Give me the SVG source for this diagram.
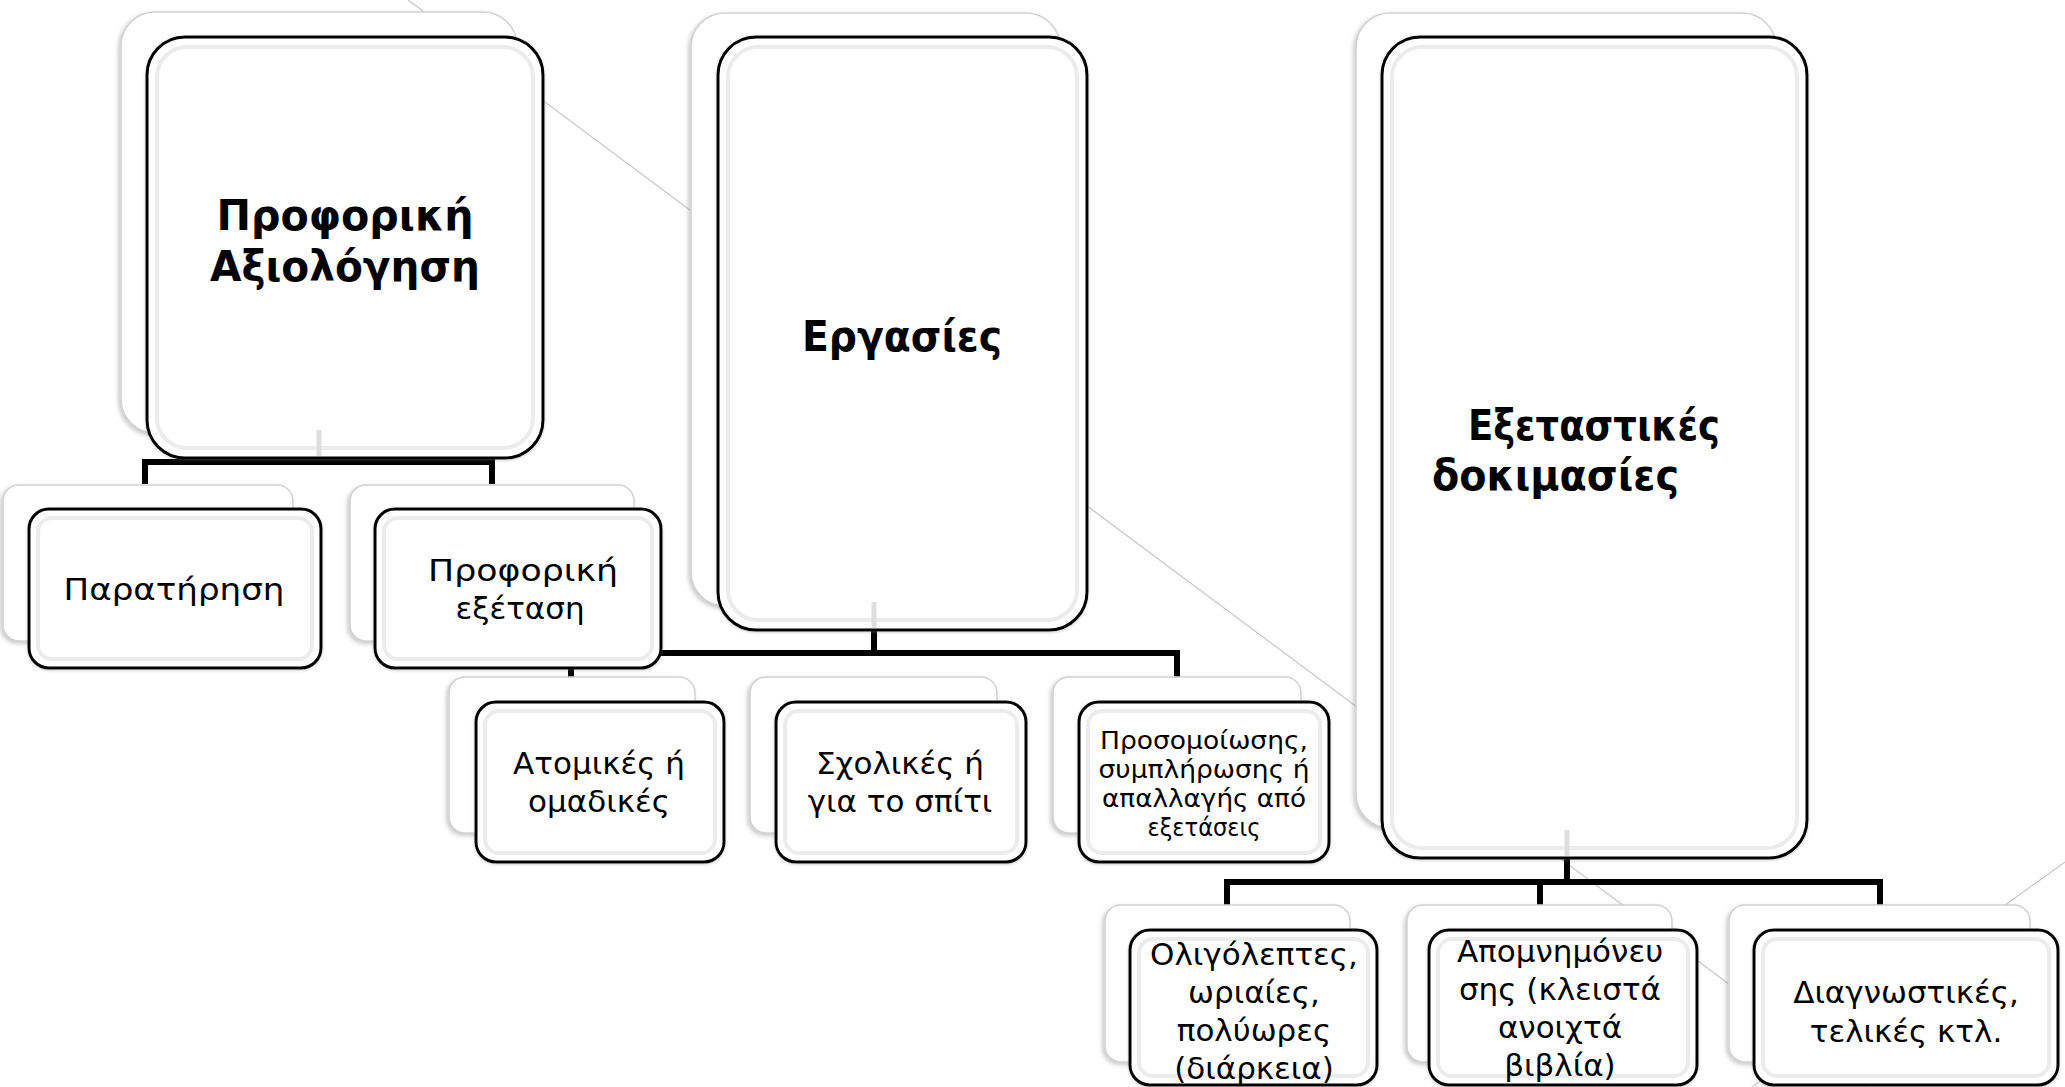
<svg xmlns="http://www.w3.org/2000/svg" width="2065" height="1087" viewBox="0 0 2065 1087">
<defs>
<filter id="sh" x="-10%" y="-10%" width="120%" height="120%">
<feDropShadow dx="-2" dy="2" stdDeviation="2" flood-color="#888" flood-opacity="0.45"/>
</filter>
<filter id="sh2" x="-10%" y="-10%" width="120%" height="120%">
<feDropShadow dx="0" dy="1" stdDeviation="1.5" flood-color="#777" flood-opacity="0.35"/>
</filter>
<style>
.back{fill:#fff;stroke:#d2d2d2;stroke-width:1.5;filter:url(#sh)}
.front{fill:#fff;stroke:#000;stroke-width:3;filter:url(#sh2)}
.bevel{fill:none;stroke:#ececec;stroke-width:4}
.conn{fill:none;stroke:#000;stroke-width:6;stroke-linejoin:miter}
.ghost{stroke:#dedede;stroke-width:5}
.deco{fill:none;stroke:#c8c8c8;stroke-width:1.3}
.title{font-family:"DejaVu Sans","Liberation Sans",sans-serif;font-weight:bold;font-size:43px;fill:#000}
.leaf{font-family:"DejaVu Sans","Liberation Sans",sans-serif;font-size:31px;fill:#000;text-anchor:middle}
.small{font-family:"DejaVu Sans","Liberation Sans",sans-serif;font-size:25px;fill:#000;text-anchor:middle}
</style>
</defs>
<rect width="2065" height="1087" fill="#fff"/>
<g id="decoration">
<line class="deco" x1="408" y1="0" x2="1867" y2="1087"/>
<line class="deco" x1="2065" y1="862" x2="1752" y2="1087"/>
</g>
<g id="connectors">
<path class="conn" d="M319 458 V462 M145 484 V462 H492 V484"/>
<path class="conn" d="M874 630 V653 M571 678 V653 H1177 V678"/>
<path class="conn" d="M1567 858 V882 M1227 906 V882 H1880 V906 M1540 882 V906"/>
</g>
<g id="node-A">
<rect class="back" x="121" y="12" width="396" height="421" rx="34"/>
<rect class="front" x="147" y="37" width="396" height="421" rx="38"/>
<rect class="bevel" x="157" y="47" width="376" height="401" rx="30"/>
<line class="ghost" x1="319" y1="430" x2="319" y2="456"/>
<text class="title" text-anchor="middle" lengthAdjust="spacingAndGlyphs"><tspan x="345" y="230" textLength="257" lengthAdjust="spacingAndGlyphs">Προφορική</tspan><tspan x="345" y="281" textLength="270" lengthAdjust="spacingAndGlyphs">Αξιολόγηση</tspan></text>
</g>
<g id="node-A1">
<rect class="back" x="3" y="485" width="290" height="156" rx="16"/>
<rect class="front" x="29" y="509" width="292" height="159" rx="20"/>
<rect class="bevel" x="38" y="518" width="274" height="141" rx="14"/>
<text class="leaf" x="174" y="600" textLength="221" lengthAdjust="spacingAndGlyphs">Παρατήρηση</text>
</g>
<g id="node-A2">
<rect class="back" x="350" y="485" width="284" height="156" rx="16"/>
<rect class="front" x="375" y="509" width="286" height="159" rx="20"/>
<rect class="bevel" x="384" y="518" width="268" height="141" rx="14"/>
<text class="leaf"><tspan x="523" y="581" textLength="190" lengthAdjust="spacingAndGlyphs">Προφορική</tspan><tspan x="520" y="619">εξέταση</tspan></text>
</g>
<g id="node-B">
<rect class="back" x="691" y="13" width="369" height="593" rx="34"/>
<rect class="front" x="718" y="37" width="369" height="593" rx="38"/>
<rect class="bevel" x="728" y="47" width="349" height="573" rx="30"/>
<line class="ghost" x1="874" y1="602" x2="874" y2="628"/>
<text class="title" x="902" y="351" text-anchor="middle" textLength="200" lengthAdjust="spacingAndGlyphs">Εργασίες</text>
</g>
<g id="node-B1">
<rect class="back" x="449" y="677" width="246" height="156" rx="16"/>
<rect class="front" x="476" y="702" width="248" height="160" rx="20"/>
<rect class="bevel" x="485" y="711" width="230" height="142" rx="14"/>
<text class="leaf"><tspan x="599" y="774">Ατομικές ή</tspan><tspan x="599" y="812">ομαδικές</tspan></text>
</g>
<g id="node-B2">
<rect class="back" x="750" y="677" width="247" height="156" rx="16"/>
<rect class="front" x="776" y="702" width="250" height="160" rx="20"/>
<rect class="bevel" x="785" y="711" width="232" height="142" rx="14"/>
<text class="leaf"><tspan x="900" y="774">Σχολικές ή</tspan><tspan x="900" y="812">για το σπίτι</tspan></text>
</g>
<g id="node-B3">
<rect class="back" x="1053" y="677" width="248" height="156" rx="16"/>
<rect class="front" x="1079" y="702" width="250" height="160" rx="20"/>
<rect class="bevel" x="1088" y="711" width="232" height="142" rx="14"/>
<text class="small"><tspan x="1204" y="749" textLength="208" lengthAdjust="spacingAndGlyphs">Προσομοίωσης,</tspan><tspan x="1204" y="778" textLength="211" lengthAdjust="spacingAndGlyphs">συμπλήρωσης ή</tspan><tspan x="1204" y="807" textLength="204" lengthAdjust="spacingAndGlyphs">απαλλαγής από</tspan><tspan x="1204" y="836" textLength="113" lengthAdjust="spacingAndGlyphs">εξετάσεις</tspan></text>
</g>
<g id="node-C">
<rect class="back" x="1356" y="13" width="420" height="815" rx="34"/>
<rect class="front" x="1382" y="37" width="425" height="821" rx="38"/>
<rect class="bevel" x="1392" y="47" width="405" height="801" rx="30"/>
<line class="ghost" x1="1567" y1="830" x2="1567" y2="856"/>
<text class="title"><tspan x="1468" y="440" textLength="252" lengthAdjust="spacingAndGlyphs">Εξεταστικές</tspan><tspan x="1432" y="490" textLength="247" lengthAdjust="spacingAndGlyphs">δοκιμασίες</tspan></text>
</g>
<g id="node-C1">
<rect class="back" x="1105" y="905" width="245" height="157" rx="16"/>
<rect class="front" x="1130" y="930" width="247" height="155" rx="20"/>
<rect class="bevel" x="1139" y="939" width="229" height="137" rx="14"/>
<text class="leaf"><tspan x="1254" y="965">Ολιγόλεπτες,</tspan><tspan x="1254" y="1003">ωριαίες,</tspan><tspan x="1254" y="1041">πολύωρες</tspan><tspan x="1254" y="1079">(διάρκεια)</tspan></text>
</g>
<g id="node-C2">
<rect class="back" x="1407" y="905" width="265" height="157" rx="16"/>
<rect class="front" x="1429" y="930" width="268" height="155" rx="20"/>
<rect class="bevel" x="1438" y="939" width="250" height="137" rx="14"/>
<text class="leaf"><tspan x="1560" y="962">Απομνημόνευ</tspan><tspan x="1560" y="1000">σης (κλειστά</tspan><tspan x="1560" y="1038">ανοιχτά</tspan><tspan x="1560" y="1076">βιβλία)</tspan></text>
</g>
<g id="node-C3">
<rect class="back" x="1729" y="905" width="301" height="157" rx="16"/>
<rect class="front" x="1754" y="930" width="304" height="155" rx="20"/>
<rect class="bevel" x="1763" y="939" width="286" height="137" rx="14"/>
<text class="leaf"><tspan x="1906" y="1003">Διαγνωστικές,</tspan><tspan x="1906" y="1042">τελικές κτλ.</tspan></text>
</g>
</svg>
